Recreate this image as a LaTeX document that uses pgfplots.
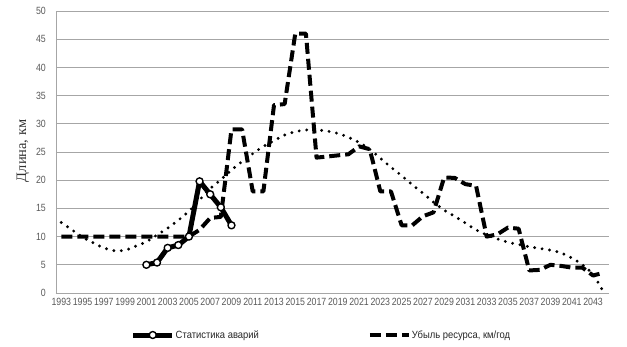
\documentclass[border=0pt]{standalone}
\usepackage{fontspec}
\setmainfont{Liberation Sans}
\newfontfamily\narrow[FakeStretch=0.9]{Liberation Sans}
\newfontfamily\narrowt[FakeStretch=0.84]{Liberation Sans}
\newfontfamily\tnr{Liberation Serif}
\usepackage{pgfplots}
\pgfplotsset{compat=1.18}
\definecolor{gridgray}{HTML}{A6A6A6}
\definecolor{ticktxt}{HTML}{595959}
\begin{document}
\begin{tikzpicture}
\path[use as bounding box] (-56bp,-54bp) rectangle (571bp,293bp);
\begin{axis}[
  scale only axis,
  width=553bp, height=282bp,
  anchor=south west, at={(0,0)},
  xmin=1992.5, xmax=2044.5,
  ymin=0, ymax=50,
  ytick={0,5,...,50},
  xtick={1993,1995,...,2043},
  xticklabels={1993,1995,1997,1999,2001,2003,2005,2007,2009,2011,2013,2015,2017,2019,2021,2023,2025,2027,2029,2031,2033,2035,2037,2039,2041,2043},
  major tick length=0pt,
  axis x line*=bottom, axis y line*=left,
  axis line style={gridgray, line width=0.8bp, -},
  ymajorgrids, grid style={gridgray, line width=0.8bp},
  /pgf/number format/assume math mode=true,
  ticklabel style={font=\narrowt\fontsize{10.5}{12}\selectfont, text=ticktxt},
  yticklabel style={anchor=east, inner sep=0pt, xshift=-10bp},
  xticklabel style={anchor=north, inner sep=0pt, yshift=-5bp},
  ylabel={Длина, км},
  ylabel style={at={(axis description cs:-0.0597,0.504)}, anchor=center, font=\tnr\fontsize{14.5}{16}\selectfont, text=black!80},
  clip=false,
  legend columns=2,
  legend style={at={(axis description cs:0.479,-0.149)}, anchor=center, draw=none, fill=none,
    font=\narrow\fontsize{10.5}{12}\selectfont, text=black!85,
    nodes={inner sep=1bp},
    /tikz/every even column/.append style={column sep=108bp}},
  legend image code/.code={\draw[mark repeat=2,mark phase=2,#1] plot coordinates {(0bp,0bp) (19.5bp,0bp) (39bp,0bp)};},
]
% trend line
\addplot[forget plot, black, line width=3.2bp, line cap=round, dash pattern=on 0bp off 7.5bp, smooth] coordinates {
(1993,12.5)(1994,11.2)(1995,9.9)(1996,8.9)(1997,8.0)(1998,7.5)(1999,7.6)(2000,8.3)(2001,9.1)(2002,10.3)(2003,11.5)(2004,12.9)(2005,14.5)(2006,16.5)(2007,18.5)(2008,20.1)(2009,21.8)(2010,23.3)(2011,24.7)(2012,26.0)(2013,27.0)(2014,28.0)(2015,28.6)(2016,28.9)(2017,28.9)(2018,28.7)(2019,28.3)(2020,27.6)(2021,26.7)(2022,25.5)(2023,23.9)(2024,22.3)(2025,20.8)(2026,19.2)(2027,17.7)(2028,16.1)(2029,14.7)(2030,13.6)(2031,12.4)(2032,11.2)(2033,10.3)(2034,9.6)(2035,9.0)(2036,8.6)(2037,8.2)(2038,7.9)(2039,7.6)(2040,7.1)(2041,6.2)(2042,5.0)(2043,3.3)(2044,0.1)};
% accidents
\addplot[black, line width=5bp, line join=round, mark=*, mark size=3.5bp, mark options={solid, fill=white, draw=black, line width=1.4bp}] coordinates {
(2001,5)(2002,5.4)(2003,8)(2004,8.5)(2005,10)(2006,19.8)(2007,17.5)(2008,15.2)(2009,12)};
\addlegendentry{Статистика аварий}
% resource loss
\addplot[black, line width=4bp, line join=round, dash pattern=on 11bp off 5bp] coordinates {
(1993,10)(1994,10)(1995,10)(1996,10)(1997,10)(1998,10)(1999,10)(2000,10)(2001,10)(2002,10)(2003,10)(2004,10)(2005,10)(2006,11.2)(2007,13.3)(2008,13.5)(2009,29)(2010,29)(2011,18)(2012,18)(2013,33.3)(2014,33.5)(2015,46)(2016,46)(2017,24)(2018,24.2)(2019,24.4)(2020,24.6)(2021,26)(2022,25.5)(2023,18)(2024,18)(2025,12)(2026,12)(2027,13.6)(2028,14.3)(2029,20.5)(2030,20.4)(2031,19.3)(2032,19)(2033,10)(2034,10.4)(2035,11.6)(2036,11.4)(2037,4)(2038,4.1)(2039,5)(2040,4.8)(2041,4.5)(2042,4.5)(2043,3.1)(2044,3.6)};
\addlegendentry{Убыль ресурса, км/год}
\end{axis}
\end{tikzpicture}
\end{document}
